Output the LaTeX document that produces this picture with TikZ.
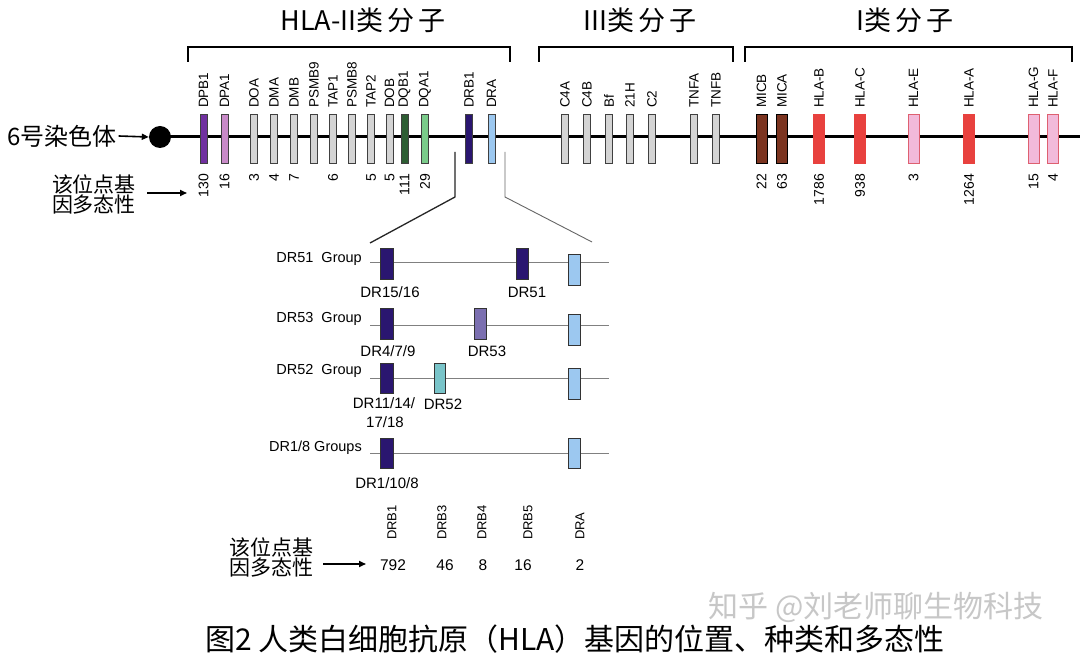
\documentclass[tikz,border=0pt]{standalone}
\usepackage{fontspec}
\setmainfont{Liberation Sans}
\newfontfamily\cjk{Noto Sans CJK SC}
\usetikzlibrary{arrows.meta}
\definecolor{cdpb}{RGB}{112,48,160}
\definecolor{cdpa}{RGB}{200,138,200}
\definecolor{cgry}{RGB}{212,212,212}
\definecolor{cdqb}{RGB}{46,94,52}
\definecolor{cdqa}{RGB}{122,203,138}
\definecolor{cdrb}{RGB}{42,22,112}
\definecolor{cdra}{RGB}{156,200,240}
\definecolor{cmic}{RGB}{123,52,32}
\definecolor{cred}{RGB}{232,65,62}
\definecolor{cpnk}{RGB}{242,186,218}
\definecolor{cpnkl}{RGB}{222,96,112}
\definecolor{cdr53}{RGB}{123,111,176}
\definecolor{cdr52}{RGB}{121,196,201}
\tikzset{
  gbox/.style={draw=black!75, line width=0.7pt, minimum width=7pt, minimum height=49pt, inner sep=0pt},
  ibox/.style={line width=0.7pt, minimum width=11pt, minimum height=49pt, inner sep=0pt},
  glab/.style={rotate=90, anchor=west, inner sep=0pt, font=\fontsize{13.5}{13.5}\selectfont},
  gnum/.style={rotate=90, anchor=east, inner sep=0pt, font=\fontsize{14}{14}\selectfont},
  cjktxt/.style={font=\cjk\fontsize{21}{21}\selectfont, inner sep=0pt},
  brk/.style={line width=1.3pt},
  arr/.style={line width=1.6pt, -{Triangle[length=7pt,width=6pt]}},
  dbox/.style={draw=black!80, line width=0.6pt, minimum width=12pt, minimum height=31pt, inner sep=0pt},
  thinl/.style={draw=black!50, line width=0.8pt},
  rowlab/.style={anchor=east, inner sep=0pt, font=\fontsize{14.5}{14.5}\selectfont},
  boxlab/.style={inner sep=0pt, font=\fontsize{15}{15}\selectfont},
  blab/.style={rotate=90, anchor=west, inner sep=0pt, font=\fontsize{13}{13}\selectfont},
  bnum/.style={inner sep=0pt, font=\fontsize{15.5}{15.5}\selectfont},
  ttl/.style={font=\cjk\fontsize{27}{27}\selectfont, inner sep=0pt}
}
\begin{document}
\begin{tikzpicture}[x=1pt,y=-1pt]
\useasboundingbox[fill=white] (0,0) rectangle (1080,660);
% titles
\node[ttl] (t2) at (363,20) {HLA-II类\hspace{4pt}分\hspace{4pt}子};
\node[ttl] (t3) at (640,20) {III类\hspace{4pt}分\hspace{4pt}子};
\node[ttl] (t1) at (905,20) {I类\hspace{4pt}分\hspace{4pt}子};
% brackets
\draw[brk] (188,62) -- (188,47) -- (510,47) -- (510,62);
\draw[brk] (539,62) -- (539,47) -- (733,47) -- (733,62);
\draw[brk] (745,62) -- (745,47) -- (1072,47) -- (1072,62);
% chromosome
\node[circle, fill=black, minimum size=22pt, inner sep=0pt] (cen) at (160,137) {};
\coordinate (lend) at (1080,137);
\draw[line width=3pt] (cen.center) -- (lend);
\node[font=\cjk\fontsize{24}{24}\selectfont, inner sep=0pt, anchor=west] (chr) at (7,136) {6号染色体};
\draw[arr] (chr.east) ++(2,0) -- (cen.west);
% class II and III genes
\foreach \x/\lab/\col/\num [count=\i] in {
  203.5/DPB1/cdpb/130, 224.5/DPA1/cdpa/16, 254/DOA/cgry/3, 274/DMA/cgry/4,
  294/DMB/cgry/7, 314/PSMB9/cgry/, 333/TAP1/cgry/6, 352/PSMB8/cgry/,
  371/TAP2/cgry/5, 389.5/DOB/cgry/5, 404.5/DQB1/cdqb/111, 425/DQA1/cdqa/29,
  469/DRB1/cdrb/, 491.5/DRA/cdra/,
  565/C4A/cgry/, 587/C4B/cgry/, 609/Bf/cgry/, 630/21H/cgry/, 652/C2/cgry/,
  694/TNFA/cgry/, 716/TNFB/cgry/}{
  \node[gbox, fill=\col] (g\i) at (\x,138.5) {};
  \node[glab] (gl\i) at (\x,108) {\lab};
  \node[gnum] (gn\i) at (\x,174) {\num};
}
% class I genes
\foreach \x/\lab/\fc/\dc/\num [count=\i] in {
  761.5/MICB/cmic/black/22, 782/MICA/cmic/black/63,
  819/HLA-B/cred/cred/1786, 860/HLA-C/cred/cred/938,
  913.5/HLA-E/cpnk/cpnkl/3, 969/HLA-A/cred/cred/1264,
  1033.5/HLA-G/cpnk/cpnkl/15, 1053/HLA-F/cpnk/cpnkl/4}{
  \node[ibox, fill=\fc, draw=\dc] (h\i) at (\x,138.5) {};
  \node[glab] (hl\i) at (\x,108) {\lab};
  \node[gnum] (hn\i) at (\x,174) {\num};
}
% polymorphism label top
\node[cjktxt] (p1a) at (94,184) {该位点基};
\node[cjktxt] (p1b) at (94,205) {因多态性};
\coordinate (p1s) at (147,193); \coordinate (p1t) at (187,193);
\draw[arr] (p1s) -- (p1t);
% leaders
\coordinate (la) at (455,152); \coordinate (lb) at (455,197); \coordinate (lc) at (370,243);
\coordinate (ra) at (505,152); \coordinate (rb) at (505,197); \coordinate (rc) at (592,242);
\draw[line width=1.3pt, black!85] (la) -- (lb) -- (lc);
\draw[line width=0.9pt, black!60] (ra) -- (rb) -- (rc);
% rows
\foreach \y [count=\i] in {262, 325, 378, 453}{
  \coordinate (rs\i) at (370,\y); \coordinate (re\i) at (609,\y);
  \draw[thinl] (rs\i) -- (re\i);
}
\node[rowlab] (rl1) at (362,259) {DR51\ \ Group};
\node[rowlab] (rl2) at (362,319) {DR53\ \ Group};
\node[rowlab] (rl3) at (362,371) {DR52\ \ Group};
\node[rowlab] (rl4) at (362,448) {DR1/8 Groups};
% row boxes
\node[dbox, fill=cdrb, minimum width=13pt] (b11) at (386.5,263.5) {};
\node[dbox, fill=cdrb] (b12) at (522,263.5) {};
\node[dbox, fill=cdra] (b13) at (574,269.5) {};
\node[dbox, fill=cdrb, minimum width=13pt] (b21) at (386.5,323.5) {};
\node[dbox, fill=cdr53] (b22) at (480,323.5) {};
\node[dbox, fill=cdra] (b23) at (574,329.5) {};
\node[dbox, fill=cdrb, minimum width=13pt, minimum height=30pt] (b31) at (386.5,378) {};
\node[dbox, fill=cdr52, minimum width=11pt, minimum height=30pt] (b32) at (439.5,378) {};
\node[dbox, fill=cdra, minimum height=31pt] (b33) at (574,383.5) {};
\node[dbox, fill=cdrb, minimum width=13pt, minimum height=30pt] (b41) at (386.5,453) {};
\node[dbox, fill=cdra, minimum height=30pt] (b43) at (574,453) {};
% row box labels
\node[boxlab] (bl11) at (390,292) {DR15/16};
\node[boxlab] (bl12) at (527,292) {DR51};
\node[boxlab] (bl21) at (388,351) {DR4/7/9};
\node[boxlab] (bl22) at (487,351) {DR53};
\node[boxlab] (bl31) at (384,403) {DR11/14/};
\node[boxlab] (bl31b) at (385,422) {17/18};
\node[boxlab] (bl32) at (443,404) {DR52};
\node[boxlab] (bl41) at (387,483) {DR1/10/8};
% bottom table
\foreach \x/\lab/\nx/\num [count=\i] in {392/DRB1/393/792, 442/DRB3/445/46, 482/DRB4/483/8, 528/DRB5/523/16, 580/DRA/580/2}{
  \node[blab] (bb\i) at (\x,540) {\lab};
  \node[bnum] (bn\i) at (\nx,565) {\num};
}
\node[cjktxt] (p2a) at (271,547) {该位点基};
\node[cjktxt] (p2b) at (271,567) {因多态性};
\coordinate (p2s) at (323,564); \coordinate (p2t) at (366,564);
\draw[arr] (p2s) -- (p2t);
% watermark
\node[font=\cjk\fontsize{30}{30}\selectfont, text=black!22, inner sep=0pt] (wm) at (876,607) {知乎 @刘老师聊生物科技};
% caption
\node[font=\cjk\fontsize{30}{30}\selectfont, inner sep=0pt] (cap) at (575,639) {图2 人类白细胞抗原（HLA）基因的位置、种类和多态性};
\end{tikzpicture}
\end{document}
